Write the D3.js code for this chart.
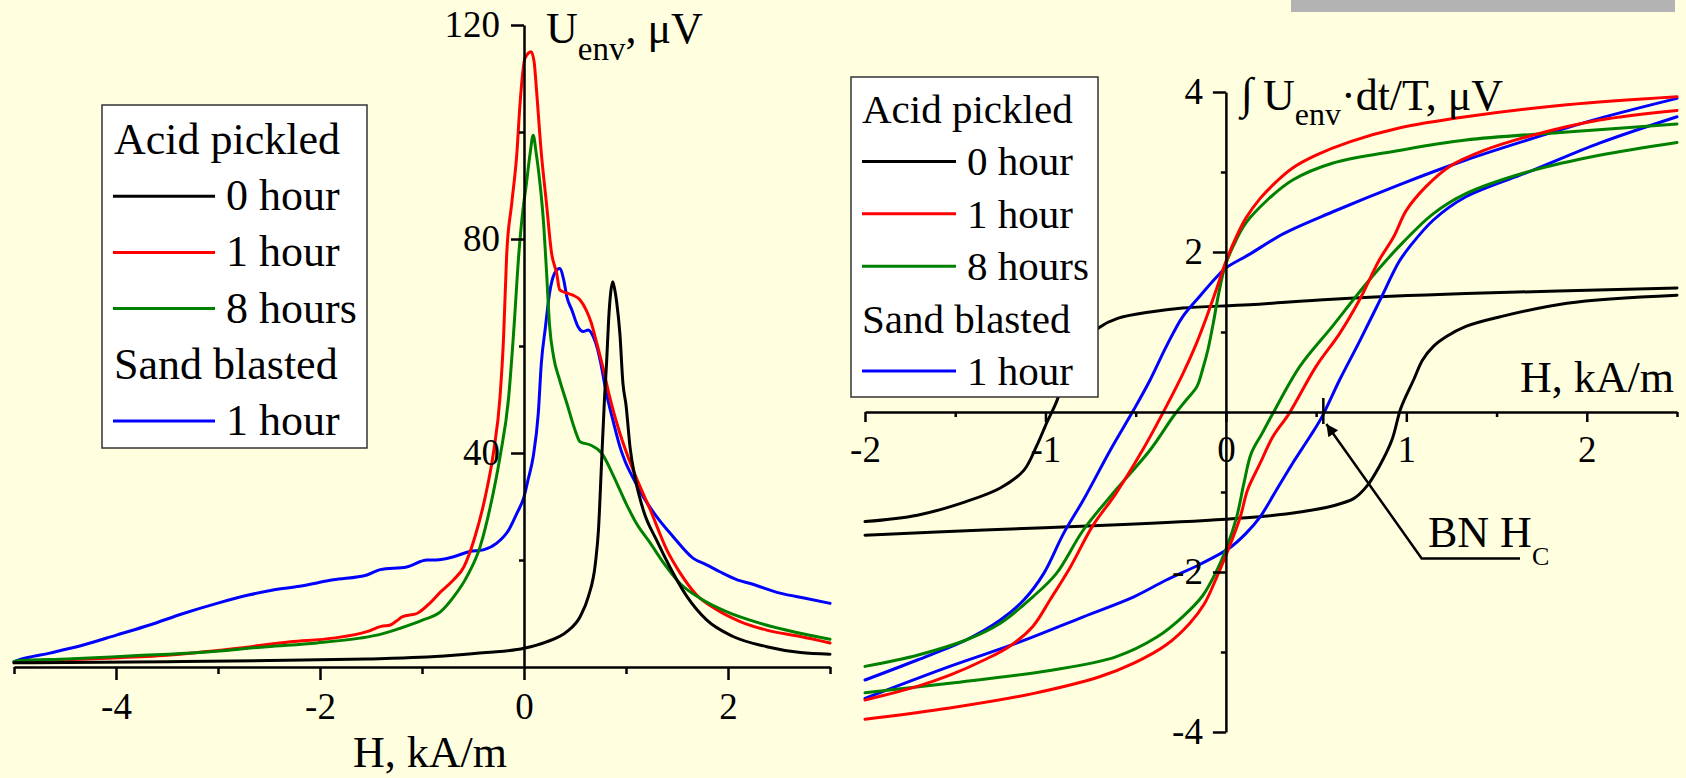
<!DOCTYPE html>
<html>
<head>
<meta charset="utf-8">
<script src="https://cdnjs.cloudflare.com/ajax/libs/d3/7.8.5/d3.min.js"></script>
<style>
    html, body { margin: 0; padding: 0; background: #ffffe0; }
    svg { display: block; font-family: "Liberation Serif", "Times New Roman", serif; }
    .axis path, .axis line { stroke: #000; stroke-width: 2.5; }
    .axis text { font-size: 37px; fill: #000; font-family: "Liberation Serif", "Times New Roman", serif; }
    .curve { fill: none; stroke-width: 3; stroke-linejoin: round; stroke-linecap: round; }
    .label { font-size: 44px; fill: #000; }
</style>
</head>
<body>
<div id="timelineChart"></div>
<script>
// ---- data ----
// left chart: envelope U_env (uV) vs H (kA/m)
const env0h = [[-5,0.8],[-4.8,0.8],[-3.5,1.0],[-2.5,1.2],[-1.54,1.5],[-1.02,1.8],[-0.69,2.2],[-0.37,2.7],[0,3.5],[0.22,4.7],[0.42,6.6],[0.55,9.4],[0.63,13.1],[0.7,19.4],[0.73,25.6],[0.76,38],[0.79,50.5],[0.81,57],[0.83,65],[0.85,70],[0.87,72],[0.89,70.5],[0.91,68],[0.94,62.3],[0.97,53],[1.0,49],[1.04,41],[1.09,35.3],[1.17,29.3],[1.3,23.7],[1.43,18.7],[1.6,13.1],[1.79,8.8],[2.05,5.7],[2.38,3.8],[2.71,2.7],[3.0,2.4]];
const env1h = [[-5,0.8],[-4.94,1.0],[-4.16,1.6],[-3.5,2.2],[-2.85,3.4],[-2.29,4.7],[-1.87,5.4],[-1.54,6.6],[-1.4,7.6],[-1.31,7.85],[-1.25,8.6],[-1.19,9.4],[-1.05,10],[-0.92,12],[-0.82,14],[-0.69,16.3],[-0.59,18.7],[-0.48,24.4],[-0.38,31.8],[-0.3,40],[-0.235,50.5],[-0.2,61.7],[-0.17,77],[-0.12,86.7],[-0.07,96],[-0.04,105],[0.01,113.8],[0.07,115],[0.1,113],[0.12,108.5],[0.17,96],[0.22,86.7],[0.27,77.4],[0.32,73.6],[0.35,70.5],[0.42,69.9],[0.48,69.5],[0.55,68.6],[0.61,66.7],[0.66,64.3],[0.7,61.5],[0.78,55.5],[0.84,50.5],[0.94,43.7],[1.07,36.8],[1.24,29.3],[1.4,21.9],[1.53,17.6],[1.69,13.5],[1.89,10.7],[2.12,8.5],[2.38,6.9],[2.71,5.7],[3.0,4.5]];
const env8h = [[-5,1.0],[-4.94,1.2],[-4.48,1.5],[-3.83,2.1],[-3.18,2.7],[-2.52,3.8],[-2.03,4.5],[-1.61,5.4],[-1.41,6.1],[-1.22,7.2],[-0.99,8.8],[-0.82,10.3],[-0.69,13.1],[-0.56,16.9],[-0.43,22.5],[-0.33,30],[-0.235,39.3],[-0.15,50.5],[-0.1,63],[-0.05,77.4],[-0.007,86],[0.02,89.8],[0.06,96],[0.09,99.4],[0.12,96],[0.16,89.8],[0.19,83.5],[0.22,74.2],[0.25,64],[0.29,58],[0.35,53.6],[0.42,49.3],[0.5,44.3],[0.55,42.1],[0.65,41.5],[0.76,40],[0.88,35.6],[1.0,30.6],[1.1,26.9],[1.24,23.1],[1.37,19.4],[1.53,15.6],[1.73,12.8],[1.99,10.3],[2.31,8.2],[2.64,6.6],[3.0,5.2]];
const envSand = [[-5,1.0],[-4.94,1.4],[-4.65,2.6],[-4.32,4.1],[-3.99,6.0],[-3.67,7.85],[-3.34,10],[-3.01,11.9],[-2.69,13.5],[-2.46,14.4],[-2.2,15.1],[-1.87,16.3],[-1.54,17.2],[-1.41,18.2],[-1.15,18.7],[-0.95,20],[-0.86,20],[-0.69,20.6],[-0.53,21.6],[-0.4,21.9],[-0.27,23.1],[-0.15,25.6],[-0.07,28.7],[0.0,31.8],[0.04,35],[0.09,39.3],[0.14,47.4],[0.17,56.8],[0.21,63.5],[0.25,69.8],[0.3,73.6],[0.35,74.5],[0.39,72.3],[0.42,69.2],[0.47,66.7],[0.53,63.6],[0.58,62.7],[0.63,63],[0.68,61.7],[0.72,59.5],[0.75,57],[0.81,51],[0.88,45.5],[0.94,41.2],[0.99,38.5],[1.07,35.3],[1.17,31.8],[1.3,28.1],[1.46,24.4],[1.66,20.3],[1.79,19.1],[1.92,17.8],[2.09,16.3],[2.22,15.6],[2.51,13.8],[2.77,12.8],[3.0,11.9]];

// right chart: integrated envelope, two branches per loop
const loop0hUp = [[-2,-1.37],[-1.71,-1.29],[-1.44,-1.12],[-1.25,-0.95],[-1.12,-0.73],[-1.05,-0.43],[-0.99,-0.12],[-0.94,0.12],[-0.88,0.5],[-0.8,0.85],[-0.7,1.06],[-0.6,1.17],[-0.42,1.25],[-0.24,1.3],[0.13,1.34],[0.59,1.41],[1.33,1.48],[2.5,1.55]];
const loop0hDown = [[-2,-1.54],[-1.34,-1.475],[-0.6,-1.41],[0,-1.34],[0.23,-1.3],[0.41,-1.25],[0.59,-1.175],[0.71,-1.08],[0.78,-0.93],[0.85,-0.68],[0.92,-0.35],[0.97,0.05],[1.04,0.4],[1.09,0.65],[1.15,0.82],[1.22,0.94],[1.33,1.07],[1.52,1.19],[1.89,1.36],[2.5,1.46]];
const loop1hUp = [[-2,-3.6],[-1.71,-3.43],[-1.53,-3.29],[-1.34,-3.1],[-1.2,-2.93],[-1.07,-2.68],[-0.975,-2.35],[-0.86,-1.93],[-0.74,-1.43],[-0.61,-1.02],[-0.46,-0.47],[-0.33,0.07],[-0.24,0.47],[-0.17,0.82],[-0.11,1.17],[-0.05,1.55],[0,1.88],[0.06,2.2],[0.11,2.42],[0.19,2.67],[0.28,2.88],[0.37,3.05],[0.5,3.21],[0.69,3.38],[0.96,3.55],[1.33,3.69],[1.89,3.84],[2.5,3.94]];
const loop1hDown = [[-2,-3.84],[-1.53,-3.7],[-1.07,-3.52],[-0.7,-3.31],[-0.51,-3.14],[-0.33,-2.91],[-0.2,-2.64],[-0.12,-2.4],[-0.05,-2.06],[0.02,-1.68],[0.08,-1.31],[0.12,-0.975],[0.19,-0.64],[0.26,-0.31],[0.35,-0.02],[0.5,0.57],[0.63,0.98],[0.74,1.4],[0.85,1.9],[0.93,2.19],[1.0,2.52],[1.11,2.82],[1.24,3.07],[1.43,3.27],[1.7,3.46],[2.07,3.65],[2.5,3.77]];
const loop8hUp = [[-2,-3.18],[-1.71,-3.04],[-1.44,-2.85],[-1.25,-2.64],[-1.07,-2.31],[-0.94,-2.02],[-0.79,-1.475],[-0.61,-0.975],[-0.42,-0.475],[-0.29,-0.05],[-0.22,0.15],[-0.16,0.32],[-0.13,0.525],[-0.1,0.775],[-0.07,1.11],[-0.04,1.48],[-0.005,1.82],[0.04,2.07],[0.11,2.36],[0.23,2.65],[0.37,2.9],[0.59,3.11],[0.96,3.27],[1.33,3.4],[1.89,3.5],[2.5,3.6]];
const loop8hDown = [[-2,-3.51],[-1.53,-3.39],[-0.975,-3.23],[-0.61,-3.06],[-0.38,-2.81],[-0.24,-2.56],[-0.13,-2.3],[-0.05,-1.98],[0,-1.72],[0.06,-1.31],[0.1,-0.89],[0.14,-0.52],[0.2,-0.27],[0.26,-0.02],[0.41,0.57],[0.59,1.07],[0.78,1.61],[0.96,2.07],[1.15,2.48],[1.33,2.73],[1.7,3.02],[2.07,3.21],[2.5,3.37]];
const loopSandUp = [[-2,-3.35],[-1.71,-3.1],[-1.44,-2.85],[-1.25,-2.6],[-1.12,-2.35],[-1.01,-2.02],[-0.9,-1.52],[-0.79,-1.1],[-0.64,-0.475],[-0.51,0.03],[-0.42,0.4],[-0.33,0.82],[-0.24,1.19],[-0.14,1.46],[-0.05,1.69],[0.0,1.8],[0.13,1.97],[0.32,2.23],[0.59,2.5],[0.96,2.84],[1.33,3.15],[1.7,3.42],[2.07,3.67],[2.5,3.92]];
const loopSandDown = [[-2,-3.58],[-1.53,-3.18],[-1.16,-2.89],[-0.79,-2.56],[-0.51,-2.31],[-0.33,-2.1],[-0.14,-1.9],[0.02,-1.7],[0.11,-1.52],[0.19,-1.31],[0.28,-0.975],[0.37,-0.64],[0.465,-0.31],[0.53,-0.07],[0.63,0.4],[0.74,0.88],[0.85,1.38],[0.96,1.88],[1.02,2.07],[1.15,2.4],[1.33,2.69],[1.7,3.02],[2.07,3.36],[2.5,3.69]];

const seriesNames = ['0 hour', '1 hour', '8 hours', '1 hour'];
const seriesColors = ['#000000', '#ff0000', '#008000', '#0000ff'];
const legendRows = [
    {label: 'Acid pickled'},
    {label: seriesNames[0], color: seriesColors[0]},
    {label: seriesNames[1], color: seriesColors[1]},
    {label: seriesNames[2], color: seriesColors[2]},
    {label: 'Sand blasted'},
    {label: seriesNames[3], color: seriesColors[3]}
];

const leftXTicks = [-4, -2, 0, 2];
const leftXMinor = [-5, -3, -1, 1, 3];
const leftYTicks = [40, 80, 120];
const leftYMinor = [20, 60, 100];
const rightXTicks = [-2, -1, 0, 1, 2];
const rightXMinor = [-1.5, -0.5, 0.5, 1.5, 2.5];
const rightYTicks = [-4, -2, 2, 4];
const rightYMinor = [-3, -1, 1, 3];

// BN coercivity marker (kA/m) and annotation elbow
const bnHc = 0.54;
const bnElbow = [1.085, -1.83];
const bnEnd = 1.63;

document.addEventListener('DOMContentLoaded', function(){
    drawChart();
});

function drawChart() {
    const svg = d3.select('#timelineChart').append('svg').attr('id', 'Chart')
        .attr('width', 1686).attr('height', 778);

    svg.append('rect').attr('width', 1686).attr('height', 778).attr('fill', '#ffffe0');
    // stray grey bar at top right
    svg.append('rect').attr('x', 1291).attr('y', 0).attr('width', 384).attr('height', 12).attr('fill', '#b3b3b3');

    const fmt = d => String(d).replace('\u2212', '-');

    // ---------- left chart ----------
    let xL = d3.scaleLinear().domain([-5, 3]).range([14, 830]);
    let yL = d3.scaleLinear().domain([0, 120]).range([667, 25]);

    let gL = svg.append('g');
    let lineL = d3.line().x(d => xL(d[0])).y(d => yL(d[1])).curve(d3.curveMonotoneX);

    [envSand, env1h, env8h, env0h].forEach(function(s, i) {
        let col = [seriesColors[3], seriesColors[1], seriesColors[2], seriesColors[0]][i];
        gL.append('path').attr('class', 'curve').attr('d', lineL(s)).attr('stroke', col);
    });

    gL.append('g').attr('class', 'axis').attr('transform', 'translate(0,' + yL(0) + ')')
        .call(d3.axisBottom(xL).tickValues(leftXMinor).tickSize(7).tickSizeOuter(0).tickFormat(''))
        .call(g => g.select('.domain').remove());
    gL.append('g').attr('class', 'axis').attr('transform', 'translate(0,' + yL(0) + ')')
        .call(d3.axisBottom(xL).tickValues(leftXTicks).tickSize(13).tickSizeOuter(0).tickPadding(13).tickFormat(fmt));

    gL.append('g').attr('class', 'axis').attr('transform', 'translate(' + xL(0) + ',0)')
        .call(d3.axisLeft(yL).tickValues(leftYMinor).tickSize(5).tickSizeOuter(0).tickFormat(''))
        .call(g => g.select('.domain').remove());
    gL.append('g').attr('class', 'axis').attr('transform', 'translate(' + xL(0) + ',0)')
        .call(d3.axisLeft(yL).tickValues(leftYTicks).tickSize(13).tickSizeOuter(0).tickPadding(11));

    gL.append('text').attr('class', 'label').attr('x', 430).attr('y', 767)
        .attr('text-anchor', 'middle').text('H, kA/m');

    let yLab = gL.append('text').attr('class', 'label').attr('x', 546).attr('y', 43);
    yLab.append('tspan').text('U');
    yLab.append('tspan').attr('dy', 17).style('font-size', '33px').text('env');
    yLab.append('tspan').attr('dy', -17).text(', \u03bcV');

    drawLegend(gL, {x: 102, y: 105, w: 265, h: 343, first: 154, step: 56.2, tx: 114, lx1: 113, lx2: 215, ltx: 226, size: 44});

    // ---------- right chart ----------
    let xR = d3.scaleLinear().domain([-2, 2.5]).range([865, 1677]);
    let yR = d3.scaleLinear().domain([-4, 4]).range([732, 92]);

    let gR = svg.append('g');
    let lineR = d3.line().x(d => xR(d[0])).y(d => yR(d[1])).curve(d3.curveCatmullRom.alpha(0.5));

    let loops = [
        [loop0hUp, loop0hDown, seriesColors[0]],
        [loopSandUp, loopSandDown, seriesColors[3]],
        [loop8hUp, loop8hDown, seriesColors[2]],
        [loop1hUp, loop1hDown, seriesColors[1]]
    ];
    loops.forEach(function(l) {
        gR.append('path').attr('class', 'curve').attr('d', lineR(l[0])).attr('stroke', l[2]);
        gR.append('path').attr('class', 'curve').attr('d', lineR(l[1])).attr('stroke', l[2]);
    });

    gR.append('g').attr('class', 'axis').attr('transform', 'translate(0,' + yR(0) + ')')
        .call(d3.axisBottom(xR).tickValues(rightXMinor).tickSize(5).tickSizeOuter(0).tickFormat(''))
        .call(g => g.select('.domain').remove());
    gR.append('g').attr('class', 'axis').attr('transform', 'translate(0,' + yR(0) + ')')
        .call(d3.axisBottom(xR).tickValues(rightXTicks).tickSize(10).tickSizeOuter(0).tickPadding(14).tickFormat(fmt));

    gR.append('g').attr('class', 'axis').attr('transform', 'translate(' + xR(0) + ',0)')
        .call(d3.axisLeft(yR).tickValues(rightYMinor).tickSize(5).tickSizeOuter(0).tickFormat(''))
        .call(g => g.select('.domain').remove());
    gR.append('g').attr('class', 'axis').attr('transform', 'translate(' + xR(0) + ',0)')
        .call(d3.axisLeft(yR).tickValues(rightYTicks).tickSize(13).tickSizeOuter(0).tickPadding(10).tickFormat(fmt));

    gR.append('text').attr('class', 'label').attr('x', 1674).attr('y', 392)
        .attr('text-anchor', 'end').text('H, kA/m');

    gR.append('text').attr('class', 'label').attr('x', 1241).attr('y', 108).text('\u222b');
    let yRLab = gR.append('text').attr('class', 'label').attr('x', 1263).attr('y', 110);
    yRLab.append('tspan').text('U');
    yRLab.append('tspan').attr('dy', 15).style('font-size', '32px').text('env');
    yRLab.append('tspan').attr('dy', -15).text('\u00b7dt/T, \u03bcV');

    // BN Hc marker + arrow
    svg.append('defs').append('marker').attr('id', 'arrowHead')
        .attr('viewBox', '0 0 10 10').attr('refX', 10).attr('refY', 5)
        .attr('markerUnits', 'userSpaceOnUse').attr('markerWidth', 16).attr('markerHeight', 12)
        .attr('orient', 'auto')
        .append('path').attr('d', 'M0,0 L10,5 L0,10 Z').attr('fill', '#000');

    gR.append('line').attr('x1', xR(bnHc)).attr('x2', xR(bnHc))
        .attr('y1', yR(0) - 14).attr('y2', yR(0) + 12)
        .attr('stroke', '#000').attr('stroke-width', 2.5);
    gR.append('polyline')
        .attr('points', [[xR(bnEnd), yR(bnElbow[1])], [xR(bnElbow[0]), yR(bnElbow[1])], [xR(bnHc) + 3, yR(0) + 12]].map(p => p.join(',')).join(' '))
        .attr('fill', 'none').attr('stroke', '#000').attr('stroke-width', 2.5)
        .attr('marker-end', 'url(#arrowHead)');
    let bn = gR.append('text').attr('class', 'label').attr('x', 1428).attr('y', 547);
    bn.append('tspan').text('BN H');
    bn.append('tspan').attr('dy', 18).style('font-size', '26px').text('C');

    drawLegend(gR, {x: 851, y: 77, w: 247, h: 320, first: 123, step: 52.4, tx: 862, lx1: 862, lx2: 956, ltx: 967, size: 41});
}

function drawLegend(g, o) {
    let lg = g.append('g');
    lg.append('rect').attr('x', o.x).attr('y', o.y).attr('width', o.w).attr('height', o.h)
        .attr('fill', '#fff').attr('stroke', '#333').attr('stroke-width', 1.5);
    legendRows.forEach(function(r, i) {
        let base = o.first + i * o.step;
        if (r.color) {
            lg.append('line').attr('x1', o.lx1).attr('x2', o.lx2).attr('y1', base - 14).attr('y2', base - 14)
                .attr('stroke', r.color).attr('stroke-width', 3);
            lg.append('text').attr('x', o.ltx).attr('y', base).style('font-size', o.size + 'px').text(r.label);
        } else {
            lg.append('text').attr('x', o.tx).attr('y', base).style('font-size', o.size + 'px').text(r.label);
        }
    });
}
</script>
</body>
</html>
